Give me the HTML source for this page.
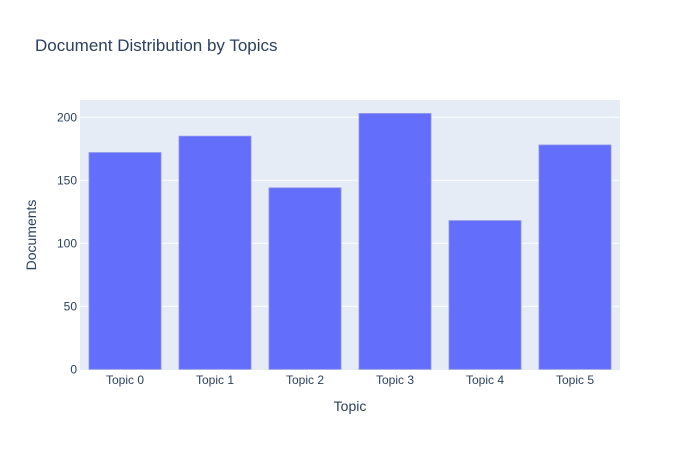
<!DOCTYPE html>
<html><head><meta charset="utf-8"><style>
body{margin:0;background:#fff;font-family:"Liberation Sans",sans-serif}
</style></head><body>
<svg id="chart" width="700" height="450" xmlns="http://www.w3.org/2000/svg">
<rect width="700" height="450" fill="#fff"/>
<text x="35" y="51" font-size="17" fill="#2a3f5f" font-family="Liberation Sans, sans-serif">Document Distribution by Topics</text>
<rect x="80" y="100" width="540" height="270" fill="#e5ecf6"/>
<g id="grid"></g><g id="bars"></g><g id="ticks"></g>
<text x="350" y="411" font-size="14" fill="#2a3f5f" text-anchor="middle">Topic</text>
<text transform="translate(36,235) rotate(-90)" font-size="14" fill="#2a3f5f" text-anchor="middle">Documents</text>
</svg>
<script>
const categories=["Topic 0","Topic 1","Topic 2","Topic 3","Topic 4","Topic 5"];
const values=[172,185,144,203,118,178];
const yTicks=[0,50,100,150,200];
const NS="http://www.w3.org/2000/svg";
const L=80,R=620,T=100,B=369.3,YMAX=213.7;
function y(v){return B-(v/YMAX)*(B-T);}
const bw=(R-L)/categories.length;
function x(i){return L+bw*i;}
function mk(t,a,p){const e=document.createElementNS(NS,t);for(const k in a)e.setAttribute(k,a[k]);document.getElementById(p).appendChild(e);return e;}
yTicks.forEach(v=>{
  if(v>0){const g=mk('line',{x1:L,x2:R,y1:y(v),y2:y(v),stroke:'#fff','stroke-width':1},'grid');
  
  }
  const t=mk('text',{x:L-3,y:y(v)+4,'font-size':12,fill:'#2a3f5f','text-anchor':'end'},'ticks');
  t.textContent=v;
  
  
});
categories.forEach((c,i)=>{
  const b=mk('rect',{x:x(i)+bw*0.1,y:y(values[i]),width:bw*0.8,height:y(0)-y(values[i]),fill:'#636efa',stroke:'#8c93e6','stroke-width':0.8},'bars');
  
  
  const t=mk('text',{x:x(i)+bw/2,y:384,'font-size':12,fill:'#2a3f5f','text-anchor':'middle'},'ticks');
  t.textContent=c;
  
  
});
</script>
</body></html>
